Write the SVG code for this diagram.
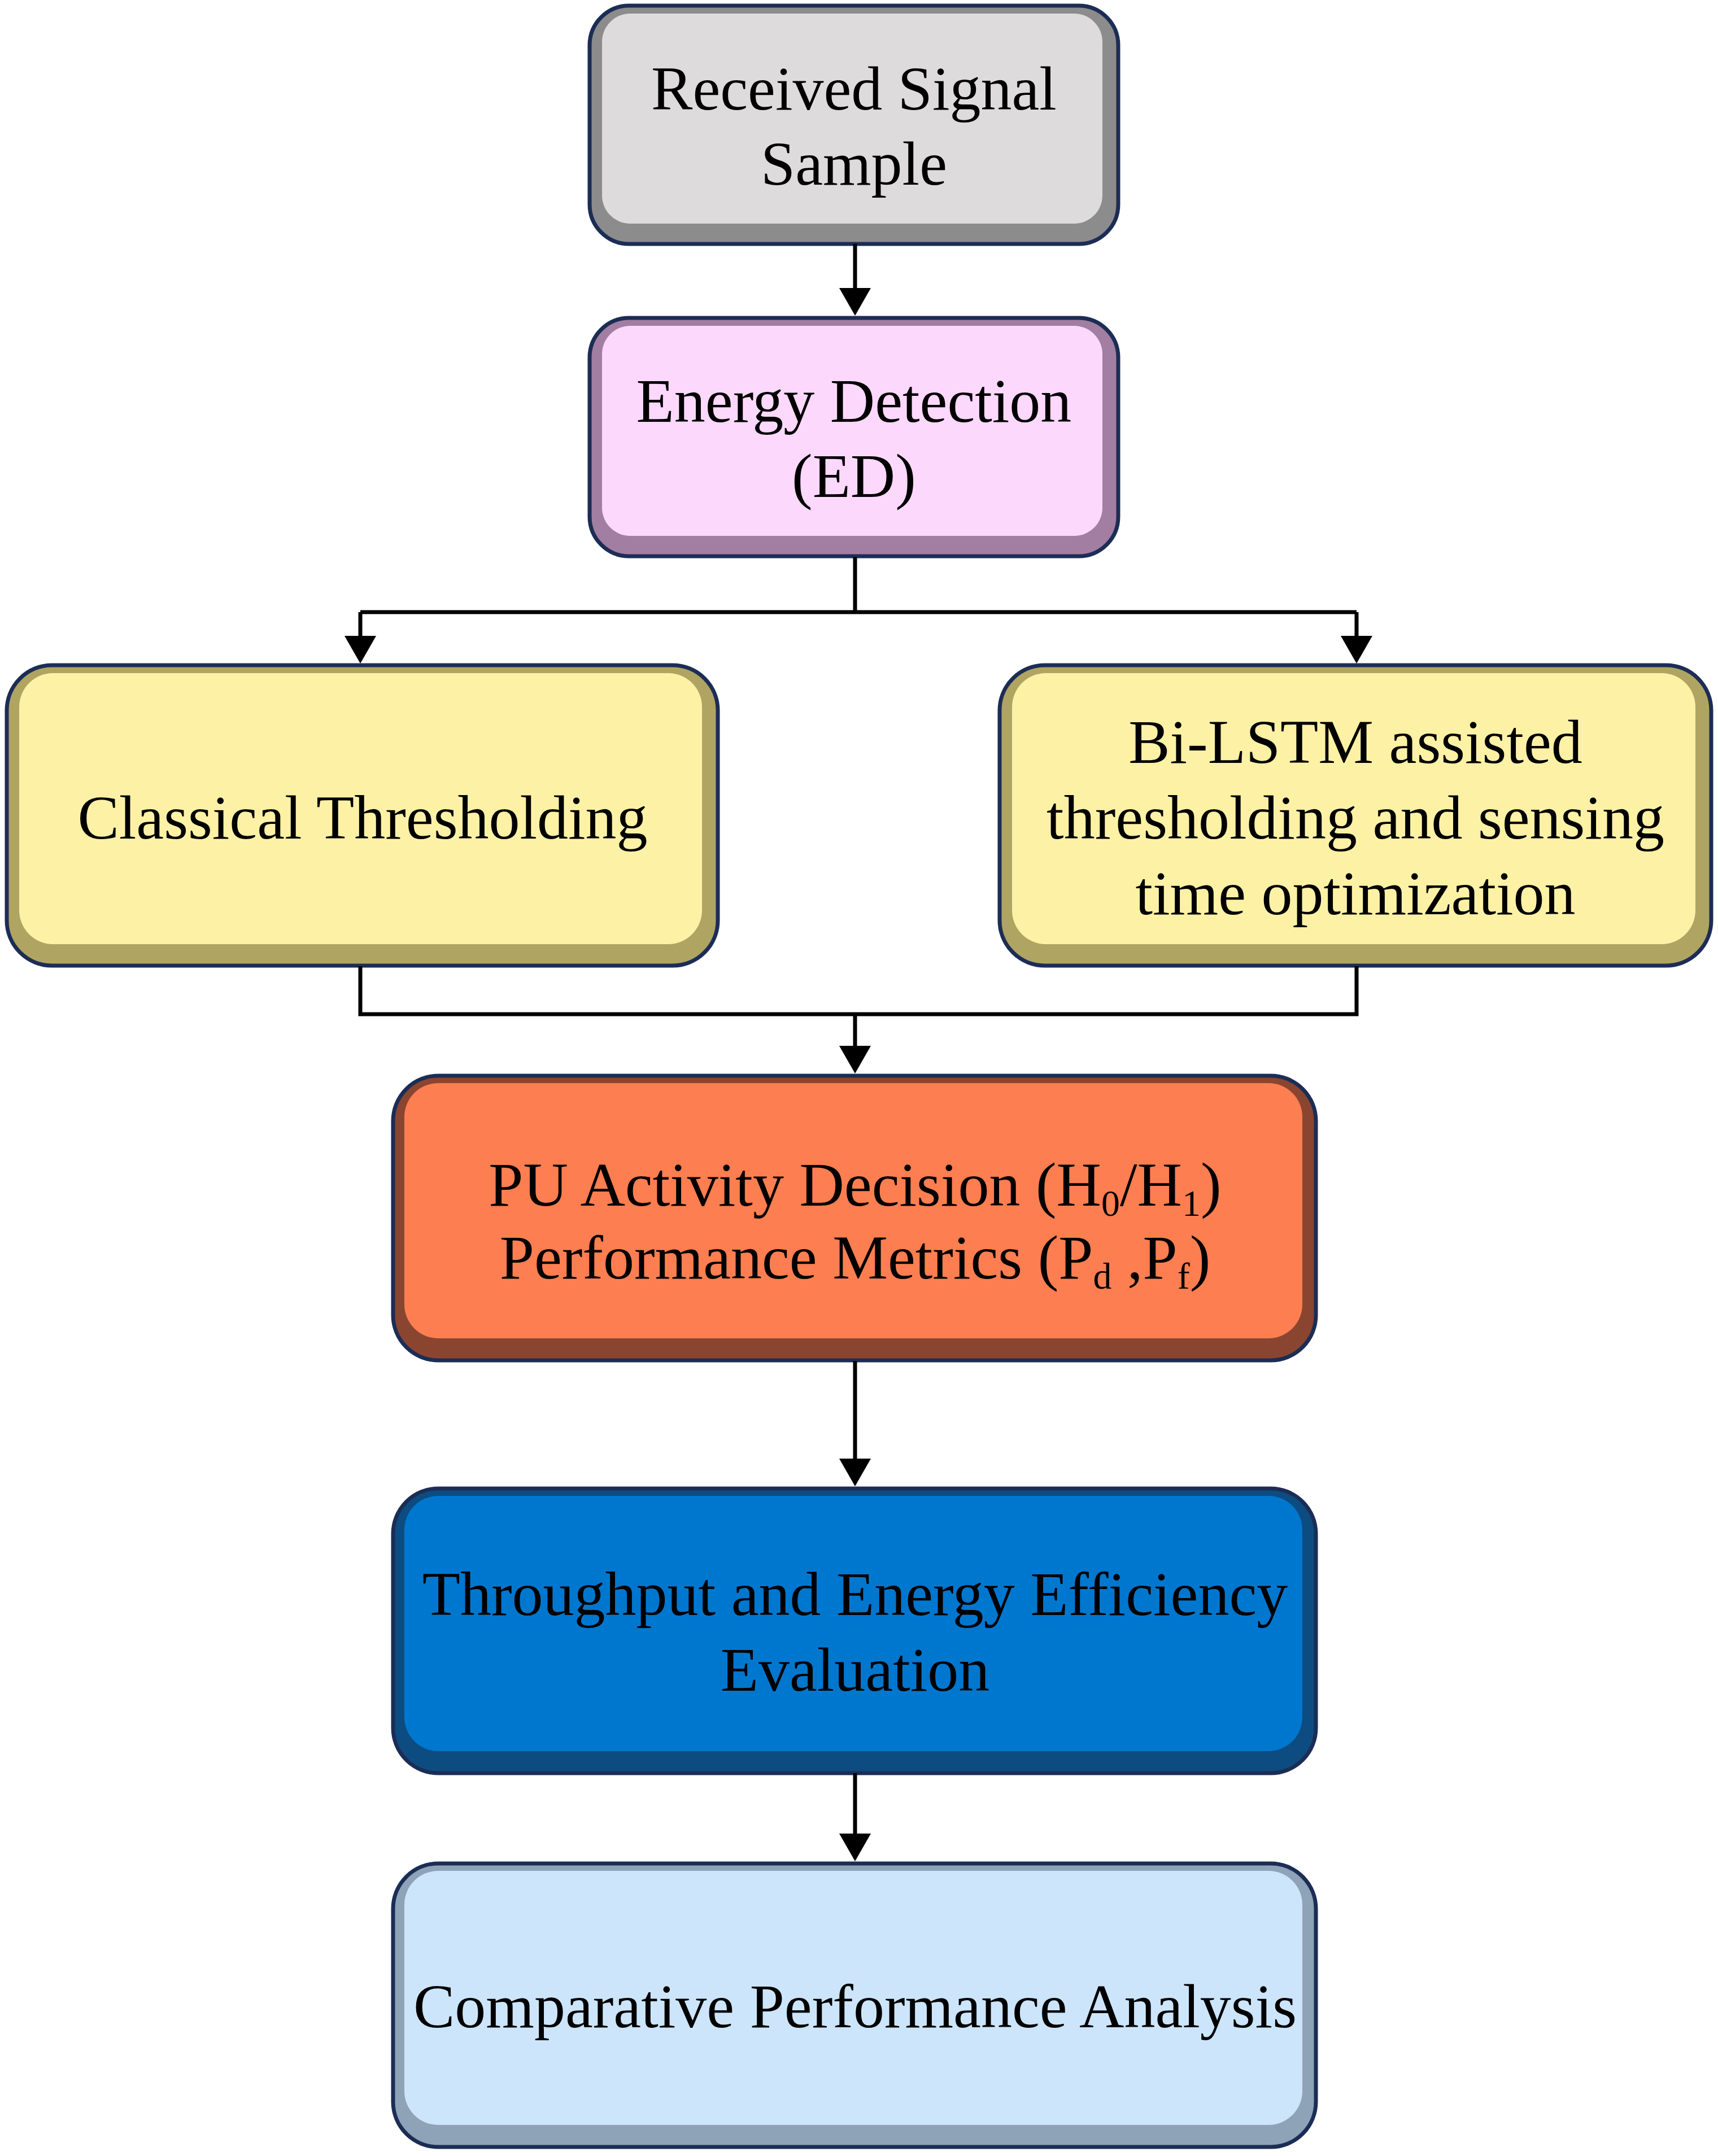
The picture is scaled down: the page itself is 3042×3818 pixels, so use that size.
<svg xmlns="http://www.w3.org/2000/svg" width="3042" height="3818" viewBox="0 0 3042 3818">
<style>
.o{stroke:#1c2d55;stroke-width:7}
.t{font-family:"Liberation Serif","Times New Roman",serif;font-size:110px;text-anchor:middle;fill:#000}
.c{fill:none;stroke:#000;stroke-width:7}
.s{font-size:66px}
</style>
<defs>
<marker id="a" markerWidth="8" markerHeight="8" refX="6" refY="4" orient="auto" markerUnits="strokeWidth"><path d="M0,0 L7,4 L0,8 z" fill="#000"/></marker>
</defs>
<rect width="3042" height="3818" fill="#fff"/>
<g id="n1">
<rect class="o" x="1044" y="10" width="936" height="422" rx="70" fill="#8c8c8c"/>
<rect x="1066" y="24" width="886" height="372" rx="50" fill="#dddbdb"/>
<text class="t" x="1512" y="194">Received Signal</text>
<text class="t" x="1512" y="327">Sample</text>
</g>
<g id="n2">
<rect class="o" x="1044" y="563" width="936" height="422" rx="70" fill="#a27ea2"/>
<rect x="1066" y="577" width="886" height="372" rx="50" fill="#fdd8fd"/>
<text class="t" x="1512" y="747">Energy Detection</text>
<text class="t" x="1512" y="880">(ED)</text>
</g>
<g id="n3">
<rect class="o" x="12" y="1178" width="1259" height="532" rx="80" fill="#b0a462"/>
<rect x="34" y="1192" width="1209" height="480" rx="60" fill="#fdf1a6"/>
<text class="t" x="642" y="1485">Classical Thresholding</text>
</g>
<g id="n4">
<rect class="o" x="1770" y="1178" width="1260" height="532" rx="80" fill="#b0a462"/>
<rect x="1792" y="1192" width="1210" height="480" rx="60" fill="#fdf1a6"/>
<text class="t" x="2400" y="1351">Bi-LSTM assisted</text>
<text class="t" x="2400" y="1485">thresholding and sensing</text>
<text class="t" x="2400" y="1619">time optimization</text>
</g>
<g id="n5">
<rect class="o" x="696" y="1905" width="1634" height="504" rx="80" fill="#8a4530"/>
<rect x="716" y="1918" width="1590" height="452" rx="60" fill="#fd7e50"/>
<text class="t" x="1514" y="2135">PU Activity Decision (H<tspan class="s" dy="18">0</tspan><tspan dy="-18">/H</tspan><tspan class="s" dy="18">1</tspan><tspan dy="-18">)</tspan></text>
<text class="t" x="1514" y="2264">Performance Metrics (P<tspan class="s" dy="18">d</tspan><tspan dy="-18"> ,P</tspan><tspan class="s" dy="18">f</tspan><tspan dy="-18">)</tspan></text>
</g>
<g id="n6">
<rect class="o" x="696" y="2636" width="1634" height="504" rx="80" fill="#0d4c80"/>
<rect x="716" y="2649" width="1590" height="452" rx="60" fill="#0077cf"/>
<text class="t" x="1514" y="2860">Throughput and Energy Efficiency</text>
<text class="t" x="1514" y="2994">Evaluation</text>
</g>
<g id="n7">
<rect class="o" x="696" y="3300" width="1634" height="502" rx="80" fill="#8ea3b8"/>
<rect x="716" y="3313" width="1590" height="450" rx="60" fill="#cce5fb"/>
<text class="t" x="1514" y="3590">Comparative Performance Analysis</text>
</g>
<g id="connectors">
<path class="c" d="M1514,432 V552" marker-end="url(#a)"/>
<path class="c" d="M1514,986 V1084 M638,1084 H2402"/>
<path class="c" d="M638,1084 V1168" marker-end="url(#a)"/>
<path class="c" d="M2402,1084 V1168" marker-end="url(#a)"/>
<path class="c" d="M638,1711 V1796 H2402 V1711"/>
<path class="c" d="M1514,1796 V1894" marker-end="url(#a)"/>
<path class="c" d="M1514,2410 V2625" marker-end="url(#a)"/>
<path class="c" d="M1514,3140 V3289" marker-end="url(#a)"/>
</g>
</svg>
